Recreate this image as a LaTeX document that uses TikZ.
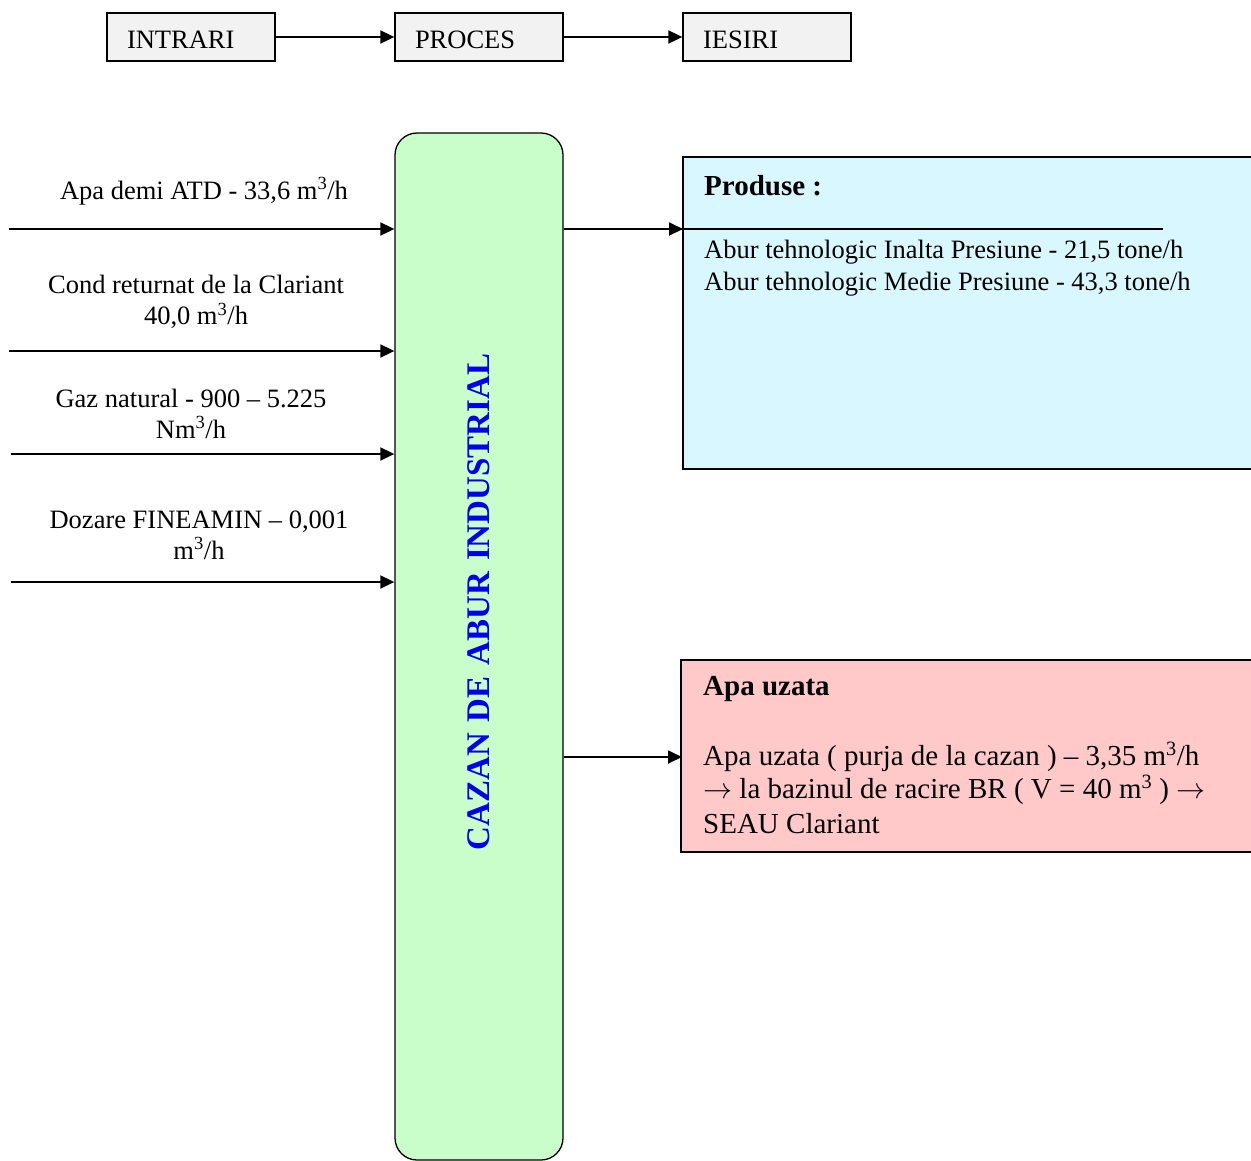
\RequirePackage{fix-cm}
\documentclass[tikz,border=0pt]{standalone}
\usepackage{fontspec}
\setmainfont{Liberation Serif}
\usetikzlibrary{arrows.meta}
\definecolor{boxgray}{HTML}{F2F2F2}
\definecolor{boilergreen}{HTML}{C9FDC9}
\definecolor{prodcyan}{HTML}{D9F7FF}
\definecolor{wastepink}{HTML}{FFC9C9}
\definecolor{labelblue}{HTML}{0000EE}
\newcommand{\cube}{\textsuperscript{3}}
\tikzset{
  flow/.style={line width=1.8pt,-{Triangle[length=14pt,width=13pt]}},
  stagebox/.style={draw,line width=1.3pt,fill=boxgray,minimum width=168pt,minimum height=48pt,
    text width=128pt,align=left,inner xsep=20pt,text height=22pt,text depth=0pt,
    font=\fontsize{26.5}{30}\selectfont},
  inlabel/.style={align=center,font=\fontsize{26.5}{31}\selectfont,inner sep=0pt},
  outbox/.style={draw,line width=1.3pt},
  txt/.style={anchor=west,inner sep=0pt,font=\fontsize{26.5}{32}\selectfont},
  wtxt/.style={anchor=west,inner sep=0pt,font=\fontsize{29}{34}\selectfont},
}
\begin{document}
\begin{tikzpicture}[x=1pt,y=-1pt]
\useasboundingbox (0,0) rectangle (1251,1160);
\clip (0,0) rectangle (1251,1160);

% stage headings
\node[stagebox] (intrari) at (191,37) {INTRARI};
\node[stagebox] (proces) at (479,37) {PROCES};
\node[stagebox] (iesiri) at (767,37) {IESIRI};
\draw[flow] (intrari) -- (proces);
\draw[flow] (proces) -- (iesiri);

% boiler block
\node[draw,line width=1.3pt,fill=boilergreen,rounded corners=22pt,
  minimum width=168pt,minimum height=1027pt,inner sep=0pt] (boiler) at (479,646.5) {};
\node[rotate=90,text=labelblue,font=\fontsize{33}{36}\selectfont\bfseries,inner sep=0pt]
  (boilertitle) at (479,602) {CAZAN\hspace{0.33em}DE\hspace{0.33em}ABUR\hspace{0.33em}INDUSTRIAL};

% inputs
\coordinate (in1) at (9,229);
\coordinate (in2) at (9,351);
\coordinate (in3) at (11,454);
\coordinate (in4) at (11,582);
\draw[flow] (in1) -- (in1 -| boiler.west);
\draw[flow] (in2) -- (in2 -| boiler.west);
\draw[flow] (in3) -- (in3 -| boiler.west);
\draw[flow] (in4) -- (in4 -| boiler.west);
\node[inlabel] (lbl1) at (204,191) {Apa demi ATD - 33,6 m\cube/h};
\node[inlabel] (lbl2) at (196,302) {Cond returnat de la Clariant\\40,0 m\cube/h};
\node[inlabel] (lbl3) at (191,414) {Gaz natural - 900 -- 5.225\\Nm\cube/h};
\node[inlabel] (lbl4) at (199,535) {Dozare FINEAMIN -- 0,001\\m\cube/h};

% products
\path[outbox,fill=prodcyan] (683,157) rectangle (1262,469);
\coordinate (prod) at (683,229);
\draw[line width=1.3pt] (680,229) -- (1163,229);
\draw[flow] (boiler.east |- prod) -- (prod);
\node[wtxt,font=\fontsize{29}{34}\selectfont\bfseries] (prodtitle) at (704,186) {Produse :};
\node[txt] (prod1) at (704,252) {Abur tehnologic Inalta Presiune - 21,5 tone/h};
\node[txt] (prod2) at (704,284) {Abur tehnologic Medie Presiune - 43,3 tone/h};

% waste water
\path[outbox,fill=wastepink] (681,660) rectangle (1262,852);
\coordinate (waste) at (682,757);
\draw[flow] (boiler.east |- waste) -- (waste);
\node[wtxt,font=\fontsize{29}{34}\selectfont\bfseries] (wastetitle) at (703,689) {Apa uzata};
\node[wtxt] (waste1) at (703,757) {Apa uzata ( purja de la cazan ) -- 3,35 m\cube/h};
\node[wtxt] (waste2) at (703,790) {$\rightarrow$ la bazinul de racire BR ( V = 40 m\cube{} ) $\rightarrow$};
\node[wtxt] (waste3) at (703,824) {SEAU Clariant};
\end{tikzpicture}
\end{document}
